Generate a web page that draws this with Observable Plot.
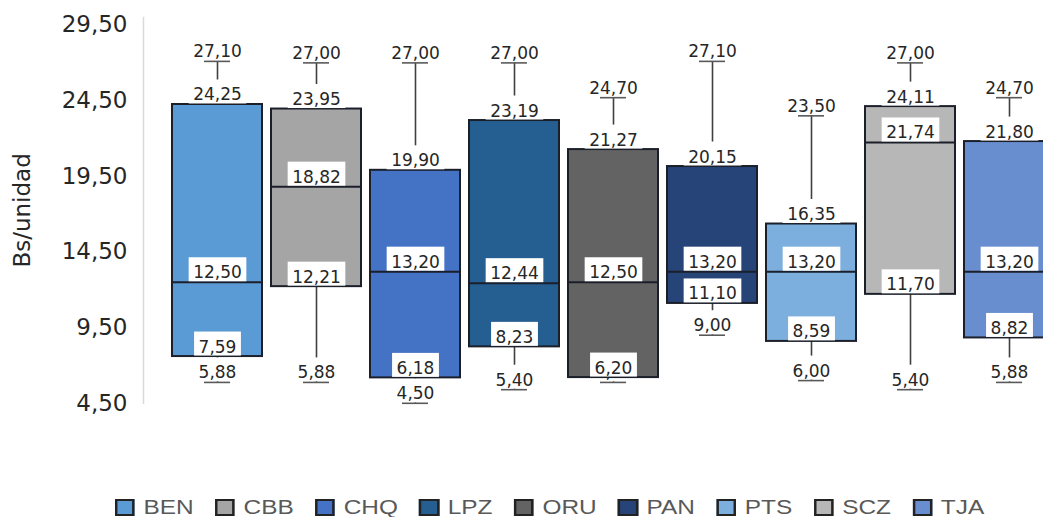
<!DOCTYPE html>
<html>
<head>
<meta charset="utf-8">
<script src="https://cdn.jsdelivr.net/npm/d3@7"></script>
<script src="https://cdn.jsdelivr.net/npm/@observablehq/plot@0.6"></script>
<style>
  html, body { margin: 0; padding: 0; background: #fff; overflow: hidden; width: 1043px; height: 517px; }
  #wrap { position: relative; width: 1043px; height: 517px; overflow: hidden; }
  #wrap svg { max-width: none !important; width: 1082px; height: 420px; display: block; }
  #legend { position: absolute; top: 497px; left: 115px; transform: scaleX(1.22); transform-origin: 0 0;
            display: flex; align-items: center; gap: 17.5px; font-family: "Liberation Sans", Arial, sans-serif;
            font-size: 20px; color: #595959; white-space: nowrap; line-height: 20px; }
  .item { display: flex; align-items: center; }
  .sw { width: 12.4px; height: 13px; border: 2px solid #222; margin-right: 7px; }
</style>
</head>
<body>
<div id="wrap"></div>
<script>
const names = ["BEN", "CBB", "CHQ", "LPZ", "ORU", "PAN", "PTS", "SCZ", "TJA"];
const maxV  = [27.10, 27.00, 27.00, 27.00, 24.70, 27.10, 23.50, 27.00, 24.70];
const q3V   = [24.25, 23.95, 19.90, 23.19, 21.27, 20.15, 16.35, 24.11, 21.80];
const medV  = [12.50, 18.82, 13.20, 12.44, 12.50, 13.20, 13.20, 21.74, 13.20];
const q1V   = [7.59, 12.21, 6.18, 8.23, 6.20, 11.10, 8.59, 11.70, 8.82];
const minV  = [5.88, 5.88, 4.50, 5.40, 5.88, 9.00, 6.00, 5.40, 5.88];
const colors = ["#5B9BD5", "#A5A5A5", "#4472C4", "#255E91", "#636363", "#264478", "#7CAFDD", "#B7B7B7", "#698ED0"];
const yTicks = [4.5, 9.5, 14.5, 19.5, 24.5, 29.5];
const yLabel = "Bs/unidad";

const fmt = v => v.toFixed(2).replace(".", ",");
const data = names.map((name, i) => ({name, max: maxV[i], q3: q3V[i], med: medV[i], q1: q1V[i], min: minV[i]}));
const outer = data.flatMap(d => [{name: d.name, v: d.max}, {name: d.name, v: d.min}]);
const inner = data.flatMap(d => [{name: d.name, v: d.q3}, {name: d.name, v: d.med}, {name: d.name, v: d.q1}]);

const dark = "#1b1f2a";
const chart = Plot.plot({
  width: 1082, height: 420,
  marginLeft: 143, marginRight: 0, marginTop: 17, marginBottom: 17.2,
  style: {fontFamily: "DejaVu Sans", background: "white", overflow: "visible", maxWidth: "none"},
  x: {domain: names, paddingInner: 0.094, paddingOuter: 0.2717, axis: null},
  y: {domain: [4.5, 30]},
  color: {domain: names, range: colors},
  marks: [
    Plot.frame({anchor: "left", stroke: "#d9d9d9", strokeWidth: 1.5}),
    Plot.axisY({ticks: yTicks, tickFormat: fmt, tickSize: 0, tickPadding: 16, fontSize: 23, color: "#262626",
                label: yLabel, labelAnchor: "center", labelOffset: 130, labelArrow: "none"}),
    Plot.ruleX(data, {x: "name", y1: "min", y2: "max", stroke: "#404040", strokeWidth: 1.6}),
    Plot.text(outer, {x: "name", y: "v", text: d => fmt(d.v), lineAnchor: "bottom", dy: -4, fontSize: 17, fill: "#262626"}),
    Plot.tickY(outer, {x: "name", y: "v", insetLeft: 32, insetRight: 32, stroke: "#595959", strokeWidth: 1.6}),
    Plot.barY(data, {x: "name", y1: "q1", y2: "q3", fill: "name", stroke: dark, strokeWidth: 2}),
    Plot.tickY(data, {x: "name", y: "med", stroke: dark, strokeWidth: 2}),
    Plot.text(inner, {x: "name", y: "v", text: d => fmt(d.v), lineAnchor: "bottom", dy: -4, fontSize: 17, fill: "#262626"})
  ]
});
const wrap = document.getElementById("wrap");
wrap.appendChild(chart);

// white backgrounds behind value labels
const ns = "http://www.w3.org/2000/svg";
chart.querySelectorAll('g[aria-label="text"] text').forEach(t => {
  const b = t.getBBox();
  const r = document.createElementNS(ns, "rect");
  r.setAttribute("x", b.x - 4.5);
  r.setAttribute("y", b.y - 5);
  r.setAttribute("width", b.width + 9);
  r.setAttribute("height", b.height + 4);
  r.setAttribute("fill", "white");
  const tr = t.getAttribute("transform");
  if (tr) r.setAttribute("transform", tr);
  t.parentNode.insertBefore(r, t);
});

// legend
const legend = document.createElement("div");
legend.id = "legend";
names.forEach((n, i) => {
  const it = document.createElement("div");
  it.className = "item";
  const sw = document.createElement("div");
  sw.className = "sw";
  sw.style.background = colors[i];
  const tx = document.createElement("span");
  tx.textContent = n;
  it.appendChild(sw); it.appendChild(tx);
  legend.appendChild(it);
});
wrap.appendChild(legend);
</script>
</body>
</html>
